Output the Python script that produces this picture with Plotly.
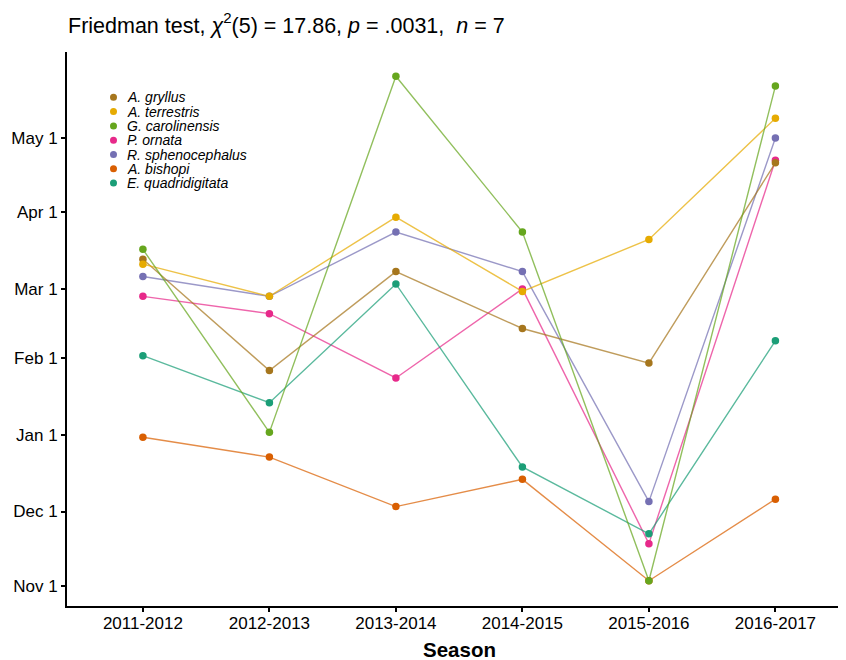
import plotly.graph_objects as go

# ---------------- data ----------------
seasons = ["2011-2012", "2012-2013", "2013-2014", "2014-2015", "2015-2016", "2016-2017"]

species = ["A. gryllus", "A. terrestris", "G. carolinensis", "P. ornata",
           "R. sphenocephalus", "A. bishopi", "E. quadridigitata"]

# dates (month-day) within a breeding season (Nov -> May)
a_gryllus        = ["03-13", "01-27", "03-08", "02-13", "01-30", "04-21"]
a_terrestris     = ["03-11", "02-26", "03-30", "02-28", "03-21", "05-09"]
g_carolinensis   = ["03-17", "01-02", "05-26", "03-24", "11-03", "05-22"]
p_ornata         = ["02-26", "02-19", "01-24", "03-01", "11-18", "04-22"]
r_sphenocephalus = ["03-06", "02-26", "03-24", "03-08", "12-05", "05-01"]
a_bishopi        = ["12-31", "12-23", "12-03", "12-14", "11-03", "12-06"]
e_quadridigitata = ["02-02", "01-14", "03-03", "12-19", "11-22", "02-08"]

values = [a_gryllus, a_terrestris, g_carolinensis, p_ornata,
          r_sphenocephalus, a_bishopi, e_quadridigitata]

y_tick_md = ["11-01", "12-01", "01-01", "02-01", "03-01", "04-01", "05-01"]
y_tick_labels = ["Nov 1", "Dec 1", "Jan 1", "Feb 1", "Mar 1", "Apr 1", "May 1"]

colors = ["#A6761D", "#E6AB02", "#66A61E", "#E7298A", "#7570B3", "#D95F02", "#1B9E77"]


def to_date(md):
    m = int(md[:2])
    year = 2001 if m >= 8 else 2002
    return f"{year}-{md}"


def rgba(hexc, a):
    h = hexc.lstrip("#")
    r, g, b = int(h[0:2], 16), int(h[2:4], 16), int(h[4:6], 16)
    return f"rgba({r},{g},{b},{a})"


# drawing order (which series sits on top)
draw_order = [3, 4, 5, 6, 0, 1, 2]

# the page places the figure 8px from the window's top-left corner
OFF = 8
W, H = 846 - OFF, 660 - OFF
ML, MR, MT, MB = 67 - OFF, 0, 52 - OFF, 54
PW, PH = W - ML - MR, H - MT - MB
FONT = "Liberation Sans, Arial, Helvetica, sans-serif"

fig = go.Figure()

for i in draw_order:
    fig.add_trace(go.Scatter(
        x=seasons, y=[to_date(v) for v in values[i]], mode="lines",
        line=dict(color=rgba(colors[i], 0.72), width=1.4),
        showlegend=False, hoverinfo="skip"))

for i in draw_order:
    fig.add_trace(go.Scatter(
        x=seasons, y=[to_date(v) for v in values[i]], mode="markers",
        name=species[i],
        marker=dict(color=colors[i], size=7.5),
        showlegend=False))


# helpers: window pixel -> paper coordinates
def px_x(xp):
    return (xp - OFF - ML) / PW


def px_y(yp):
    return (H - MB - (yp - OFF)) / PH


annotations = []
shapes = []
for k, name in enumerate(species):
    yp = 97.3 + k * 14.3
    shapes.append(dict(type="circle", xref="paper", yref="paper",
                       xsizemode="pixel", ysizemode="pixel",
                       xanchor=px_x(113.5), yanchor=px_y(yp),
                       x0=-3.5, x1=3.5, y0=-3.5, y1=3.5,
                       fillcolor=colors[k], line=dict(width=0)))
    annotations.append(dict(text=f"<i>{name}</i>", xref="paper", yref="paper",
                            x=px_x(125), y=px_y(yp), xanchor="left", yanchor="middle",
                            showarrow=False,
                            font=dict(size=14, color="black", family=FONT)))

annotations.append(dict(text="<b>Season</b>", xref="paper", yref="paper",
                        x=px_x(459.5), y=px_y(649), xanchor="center", yanchor="middle",
                        showarrow=False, font=dict(size=20.5, color="black", family=FONT)))

fig.update_layout(
    width=W, height=H,
    margin=dict(l=ML, r=MR, t=MT, b=MB, autoexpand=False),
    paper_bgcolor="white", plot_bgcolor="white",
    font=dict(family=FONT, color="black"),
    title=dict(text="Friedman test, <i>χ</i><sup>2</sup>(5) = 17.86, <i>p</i> = .0031,\u00a0 <i>n</i> = 7",
               x=(68 - OFF) / W, xanchor="left", xref="container",
               y=1 - (25 - OFF) / H, yanchor="middle", yref="container",
               font=dict(size=21.5, color="black", family=FONT)),
    xaxis=dict(type="category", categoryorder="array", categoryarray=seasons,
               range=[-0.6, (PW / 126.5) - 0.6],
               showline=True, linecolor="black", linewidth=2,
               ticks="outside", ticklen=4, tickwidth=2, tickcolor="black",
               ticklabelstandoff=-3,
               showgrid=False, zeroline=False, automargin=False,
               tickfont=dict(size=17, color="black", family=FONT)),
    yaxis=dict(type="date",
               range=["2001-10-23 19:00", "2002-06-04 19:00"],
               tickvals=[to_date(v) for v in y_tick_md], ticktext=y_tick_labels,
               showline=True, linecolor="black", linewidth=2,
               ticks="outside", ticklen=4, tickwidth=2, tickcolor="black",
               showgrid=False, zeroline=False, automargin=False,
               tickfont=dict(size=17, color="black", family=FONT)),
    shapes=shapes,
    annotations=annotations,
    showlegend=False,
)

fig.write_html("out.html")
